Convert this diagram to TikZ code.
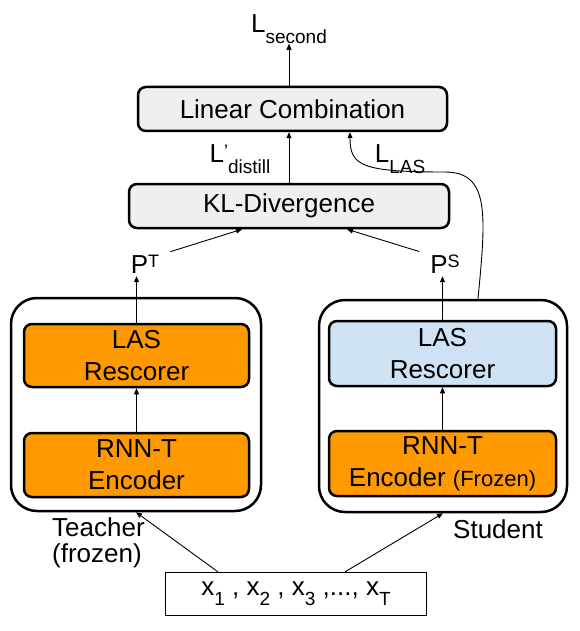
\documentclass[tikz,border=0pt]{standalone}
\usepackage{fontspec}
\setmainfont{Liberation Sans}
\usetikzlibrary{arrows.meta}
\definecolor{boxgray}{HTML}{EFEFEF}
\definecolor{encorange}{HTML}{FF9900}
\definecolor{lasblue}{HTML}{CFE2F3}
\def\lsub#1{\raisebox{-0.4em}{\fontsize{19}{19}\selectfont #1}}
\def\lsup#1{\raisebox{0.22em}{\fontsize{18}{18}\selectfont #1}}
\tikzset{
	lossbox/.style={draw, line width=2.5pt, rounded corners=8pt, fill=boxgray, inner sep=0pt, font=\fontsize{26}{31}\selectfont},
	blockbox/.style={draw, line width=2.5pt, rounded corners=8pt, inner sep=0pt, align=center, font=\fontsize{26}{32}\selectfont},
	modelbox/.style={draw, line width=2.5pt, rounded corners=26pt, inner sep=0pt},
	inputbox/.style={draw, line width=1.2pt, fill=white, inner sep=0pt, font=\fontsize{26}{31}\selectfont},
	labeltext/.style={inner sep=0pt, font=\fontsize{26}{26}\selectfont},
	link/.style={->, line width=0.9pt}
}

\begin{document}
\begin{tikzpicture}[x=1pt, y=-1pt, >={Triangle[length=6pt,width=5pt]}]
		%%%%% START %%%%%
		\useasboundingbox (0,0) rectangle (579,631);
		
		\node[lossbox, minimum width=309pt, minimum height=44pt] (lin) at (292.5,109) {Linear Combination};
		\node[lossbox, minimum width=320pt, minimum height=44pt] (kl) at (289,206) {KL-Divergence};
		
		\node[labeltext, anchor=base] (lsec) at (289,33) {L\lsub{second}};
		\node[labeltext, anchor=base] (ldis) at (240,163) {L\lsup{'}\lsub{distill}};
		\node[labeltext, anchor=base] (llas) at (400,163) {L\lsub{LAS}};
		
		\node[modelbox, minimum width=250pt, minimum height=213pt] (teacher) at (136,404.5) {};
		\node[blockbox, fill=encorange, minimum width=225pt, minimum height=63pt] (tlas) at (136.5,355.5) {LAS\\Rescorer};
		\node[blockbox, fill=encorange, minimum width=225pt, minimum height=64pt] (trnn) at (136.5,465) {RNN-T\\Encoder};
		
		\node[modelbox, minimum width=248pt, minimum height=212pt] (student) at (443,406) {};
		\node[blockbox, fill=lasblue, minimum width=227pt, minimum height=65pt] (slas) at (442.5,353.5) {LAS\\Rescorer};
		\node[blockbox, fill=encorange, minimum width=227pt, minimum height=65pt] (srnn) at (442.5,463.5) {RNN-T\\Encoder {\fontsize{22}{22}\selectfont(Frozen)}};
		
		\node[labeltext, inner sep=3pt, anchor=base] (pt) at (145,273) {P\lsup{T}};
		\node[labeltext, inner sep=3pt, anchor=base] (ps) at (445,273) {P\lsup{S}};
		
		\node[labeltext, anchor=north west, align=left] (tlabel) at (52,517) {Teacher\\(frozen)};
		\node[labeltext, anchor=north west] (slabel) at (453,519) {Student};
		
		\node[inputbox, minimum width=261pt, minimum height=43pt] (input) at (296,594) {x\lsub{1} , x\lsub{2} , x\lsub{3} ,..., x\lsub{T}};
		
		\draw[link] (lsec.south |- lin.north) -- (lsec.south);
		\draw[link] (kl.north) -- (kl.north |- lin.south);
		
		\draw[link] (tlas.north) -- (tlas.north |- pt.south);
		\draw[link] (trnn.north) -- (tlas.south);
		\draw[link] (slas.north) -- (slas.north |- ps.south);
		\draw[link] (srnn.north) -- (slas.south);
		
		\draw[link] ([xshift=8pt]pt.north east) -- ([xshift=-47pt]kl.south);
		\draw[link] ([xshift=-8pt]ps.north west) -- ([xshift=58pt]kl.south);
		
		\coordinate (bend) at (445,172);
		\draw[link] ([xshift=35pt]student.north) .. controls (486,215) and (490,172) .. (bend) .. controls (362,172) and (350,166) .. ([xshift=57.5pt]lin.south);
		
		\draw[link] ([xshift=-78pt]input.north) -- (teacher.south);
		\draw[link] ([xshift=49pt]input.north) -- (student.south);
		%%%%% END %%%%%
\end{tikzpicture}
\end{document}
